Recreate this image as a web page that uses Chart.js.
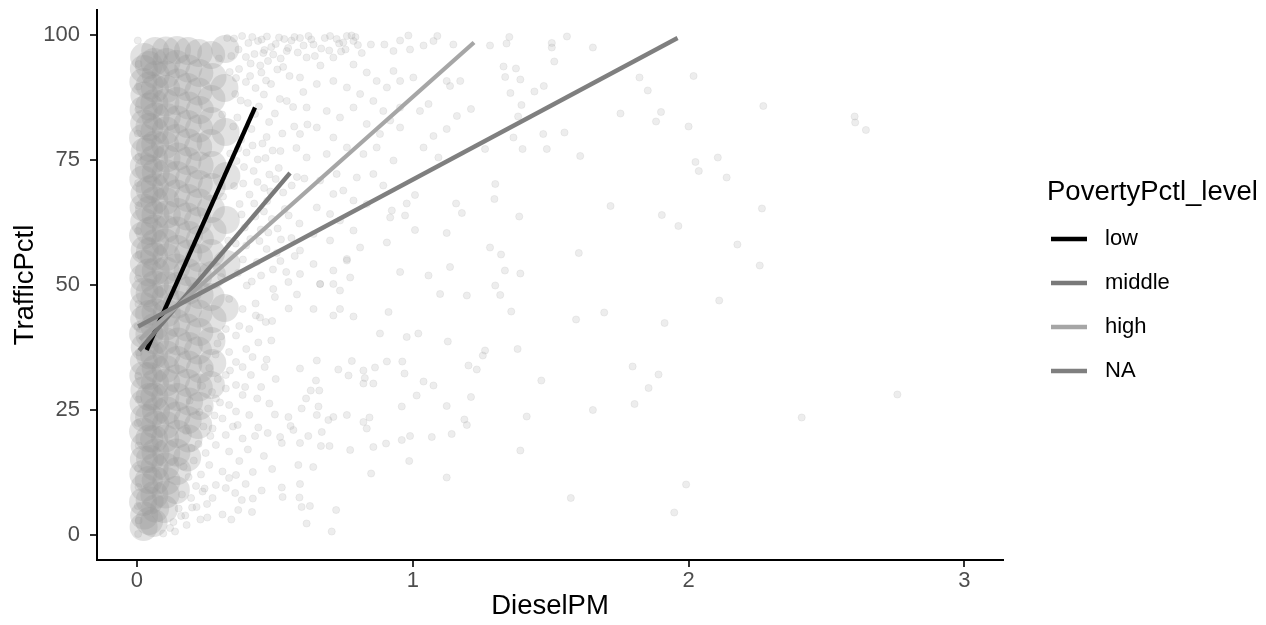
<!DOCTYPE html>
<html>
<head>
<meta charset="utf-8">
<script src="https://cdn.jsdelivr.net/npm/chart.js@4.4.1/dist/chart.umd.min.js"></script>
<style>
html,body{margin:0;padding:0;background:#ffffff;}
#wrap{width:1266px;height:625px;position:relative;}
</style>
</head>
<body>
<div id="wrap"><canvas id="c" width="1266" height="625"></canvas></div>
<script>
// ---------------- data ----------------
const xTicks = [0, 1, 2, 3];
const yTicks = [0, 25, 50, 75, 100];
const xTitle = 'DieselPM';
const yTitle = 'TrafficPctl';
const legendTitle = 'PovertyPctl_level';
const levels = ['low', 'middle', 'high', 'NA'];

// fitted lines (start / end) per poverty level
const fitStartX = [0.035, 0.008, 0.010, 0.004];
const fitStartY = [37.0, 36.9, 39.1, 41.7];
const fitEndX   = [0.428, 0.555, 1.222, 1.960];
const fitEndY   = [85.5, 72.4, 98.5, 99.4];

// individual observations (DieselPM, TrafficPctl)
const observations = [
[1.35,99.6],[1.34,98.3],[1.504,98.4],[1.504,97.5],[1.559,99.7],[1.653,97.5],[1.329,93.7],[1.374,93.3],[1.335,91.6],[1.39,91.1],[1.513,94.7],[1.475,89.8],[1.441,88.7],[1.354,88.4],[1.394,86.0],[1.382,83.7],[1.822,91.5],[1.852,88.9],[2.018,91.8],[1.753,84.3],[1.9,84.6],[1.882,82.7],[2.0,81.7],[2.271,85.8],[2.602,83.7],[2.604,82.5],[2.643,81.0],[1.365,79.5],[1.473,80.2],[1.55,80.5],[1.398,77.2],[1.486,77.2],[1.607,75.8],[2.025,74.6],[2.037,72.8],[2.106,75.5],[2.138,71.5],[1.717,65.8],[1.386,63.7],[1.903,64.0],[1.963,61.8],[2.266,65.3],[2.177,58.1],[1.32,56.1],[1.602,56.4],[1.334,52.9],[1.39,52.3],[2.258,53.9],[1.317,48.0],[1.357,44.7],[1.592,43.1],[1.694,44.5],[1.913,42.4],[2.111,46.9],[1.38,37.2],[1.797,33.7],[1.891,32.1],[1.855,29.4],[1.466,30.9],[1.804,26.2],[1.653,25.0],[1.413,23.7],[2.41,23.5],[2.757,28.1],[1.39,16.9],[1.991,10.1],[1.573,7.4],[1.948,4.5],
[0.761,99.8],[0.785,98.8],[0.848,98.1],[0.897,98.1],[0.93,96.8],[0.954,98.9],[0.984,99.9],[0.99,97.1],[1.039,97.9],[1.075,98.8],[1.089,99.8],[1.147,98.1],[1.28,97.9],[1.211,85.2],[1.16,83.8],[1.123,81.2],[1.075,79.8],[1.262,77.2],[1.093,75.5],[1.039,77.5],[1.057,86.2],[1.026,84.8],[1.123,90.8],[1.135,89.8],[1.172,90.8],[1.299,70.2],[1.296,67.2],[1.157,66.3],[1.178,64.4],[1.008,68.0],[0.978,66.3],[0.972,63.9],[0.924,64.9],[0.918,63.5],[1.008,61.0],[0.906,58.5],[1.123,60.4],[1.28,57.5],[1.299,49.9],[1.135,53.6],[1.099,48.2],[1.196,47.9],[1.057,51.9],[0.954,52.6],[0.761,55.2],
[0.591,99.4],[0.64,98.1],[0.7,99.8],[0.748,98.5],[0.543,96.8],[0.615,95.5],[0.712,95.5],[0.785,94.1],[0.833,92.5],[0.869,90.8],[0.906,89.5],[0.93,92.8],[0.954,90.8],[1.002,91.5],[0.591,91.5],[0.652,90.2],[0.712,90.8],[0.761,89.5],[0.809,88.2],[0.857,86.8],[0.893,84.8],[0.954,85.5],[0.543,86.8],[0.615,85.5],[0.688,84.8],[0.736,83.5],[0.785,85.5],[0.833,82.2],[0.881,80.2],[0.918,82.9],[0.954,81.5],[0.591,80.2],[0.652,81.5],[0.712,79.5],[0.761,77.5],[0.821,76.2],[0.869,77.5],[0.93,74.9],[0.615,75.5],[0.688,76.2],[0.724,72.2],[0.797,71.5],[0.857,72.2],[0.893,69.9],[0.664,70.9],[0.712,68.2],[0.748,68.9],[0.785,66.9],[0.833,66.2],[0.652,65.5],[0.7,64.2],[0.736,62.9],[0.785,60.9],[0.64,60.2],[0.7,58.9],[0.761,54.9],[0.809,57.5],[0.591,56.9],[0.64,54.2],[0.712,52.9],[0.773,51.5],[0.591,52.2],[0.664,50.2],[0.736,48.9],
[0.452,99.1],[0.487,97.6],[0.515,99.5],[0.56,98.9],[0.622,99.8],[0.668,97.3],[0.724,99.2],[0.792,99.6],[0.815,96.4],[0.475,94.8],[0.53,93.6],[0.665,93.9],[0.74,96.7],
[0.46,88.1],[0.5,84.3],[0.47,79.6],[0.52,76.8],[0.48,72.1],[0.53,68.5],[0.46,64.7],[0.51,61.3],[0.55,63.9],[0.47,57.2],[0.52,54.8],[0.45,51.9],[0.5,47.6],[0.55,45.3],[0.49,42.8],[0.43,46.3],[0.58,48.1],[0.56,59.4],[0.58,71.6],[0.57,81.7],[0.44,38.5],[0.47,35.1],
[0.398,49.9],[0.494,49.2],[0.549,50.6],[0.664,50.2],[0.712,50.2],[0.64,45.2],[0.736,45.2],[0.712,43.9],[0.785,43.7],[0.912,44.6],[0.881,40.3],[0.978,39.6],[1.02,40.3],[1.127,38.7],[1.262,36.9],[1.254,35.9],[1.202,33.9],[1.232,33.1],[1.211,27.6],[1.123,25.8],[1.187,23.1],[1.196,22.0],[1.141,20.2],[1.123,11.5],[1.069,19.6],[0.99,19.8],[0.96,19.0],[1.014,27.9],[0.96,25.7],[1.075,29.9],[1.039,30.7],[0.97,32.3],[0.906,34.7],[0.962,34.7],[0.863,33.5],[0.821,32.9],[0.826,31.4],[0.821,30.3],[0.857,30.3],[0.767,31.9],[0.779,34.8],[0.73,33.1],[0.652,34.9],[0.649,30.9],[0.63,28.9],[0.661,28.9],[0.658,25.7],[0.591,33.3],[0.613,27.3],[0.597,25.3],[0.549,23.6],[0.557,21.8],[0.567,21.0],[0.652,24.0],[0.694,23.0],[0.712,23.6],[0.761,24.0],[0.821,22.6],[0.833,21.3],[0.843,23.5],[0.67,20.6],[0.667,17.8],[0.698,17.8],[0.773,17.0],[0.857,17.6],[0.903,18.3],[0.591,18.4],[0.621,19.8],[0.525,18.4],[0.519,19.6],[0.585,14.0],[0.639,13.6],[0.591,10.2],[0.525,9.5],[0.528,7.6],[0.589,7.5],[0.597,5.6],[0.627,5.8],[0.615,2.3],[0.706,0.7],[0.722,5.0],[0.849,12.3],[0.987,14.8],[0.38,7.0],[0.42,7.3],[0.367,5.0],[0.255,3.5],[0.18,2.0],[0.138,0.7],[0.095,0.3],
[0.334,47.2],[0.383,45.2],[0.431,43.9],[0.467,42.6],[0.322,41.2],[0.359,39.9],[0.407,41.2],[0.292,38.3],[0.334,36.6],[0.359,34.6],[0.322,32.0],[0.383,33.6],[0.413,32.0],[0.322,29.3],[0.359,30.0],[0.286,27.3],[0.334,26.0],[0.383,28.0],[0.31,23.3],[0.359,24.7],[0.407,24.0],[0.274,21.3],[0.322,20.0],[0.365,22.0],[0.286,18.0],[0.334,16.7],[0.383,19.3],[0.262,14.0],[0.31,12.7],[0.359,12.0],[0.286,10.0],[0.334,11.4],[0.238,8.7],[0.274,7.4],[0.322,9.4],
[0.45,29.6],[0.48,26.3],[0.44,21.5],[0.5,24.1],[0.46,15.8],[0.42,12.6],[0.49,13.2],[0.2,5.5],[0.23,3.1],[0.16,3.8],[0.12,1.4],[0.31,4.1],
[0.004,0.2],[0.006,2.9],[0.003,5.8],[0.005,9.6],[0.004,13.3],[0.006,17.9],[0.003,22.4],[0.005,27.1],[0.004,31.8],[0.006,36.5],[0.003,41.7],[0.005,46.2],[0.004,51.3],[0.006,56.0],[0.003,60.8],[0.005,65.9],[0.004,70.4],[0.006,75.6],[0.003,80.3],[0.005,85.1],[0.004,89.7],[0.006,94.2],[0.003,98.9],
[0.352,99.3],[0.368,97.1],[0.381,99.8],[0.395,95.6],[0.404,98.4],[0.418,99.6],[0.426,96.2],[0.439,98.8],[0.447,93.9],[0.462,97.0],[0.471,99.7],[0.494,96.1],[0.503,98.2],[0.521,95.3],[0.534,99.2],[0.548,97.4],[0.571,99.6],[0.583,96.5],[0.604,97.9],[0.632,99.1],[0.645,95.8],[0.681,99.4],[0.697,96.9],[0.733,98.3],[0.756,97.1],[0.778,99.9],[0.801,98.0],[0.37,93.2],[0.41,91.8],[0.43,89.4],
[0.356,88.2],[0.364,83.5],[0.378,79.1],[0.361,74.8],[0.385,70.3],[0.372,66.2],[0.391,61.5],[0.358,58.3],[0.384,55.1],[0.402,86.4],[0.415,81.2],[0.397,76.5],[0.423,72.8],[0.408,68.1],[0.429,63.7],[0.411,59.2],[0.435,54.6],[0.442,85.7],[0.455,78.3],[0.438,75.1],[0.461,69.4],[0.449,61.1],[0.472,66.8],[0.486,90.2],[0.492,76.9],[0.503,71.2],[0.489,63.2],[0.507,56.4],[0.451,92.5],[0.395,90.6],
[0.132,2.6],[0.151,5.3],[0.163,8.1],[0.175,3.9],[0.187,11.6],[0.196,7.4],[0.206,14.9],[0.214,9.8],[0.223,18.2],[0.232,12.1],[0.241,21.7],[0.249,16.4],[0.258,25.3],[0.266,19.8],[0.272,28.6],[0.281,23.9],[0.293,31.2],[0.301,26.5],[0.216,5.6],[0.245,9.3],[0.198,17.4],[0.226,24.6],[0.262,33.4],[0.285,36.1],[0.305,39.7],[0.178,20.8],[0.169,13.7],[0.191,26.9],[0.236,29.8],[0.254,6.2],
[0.305,51.6],[0.331,58.9],[0.312,67.7],[0.338,76.3],[0.309,84.1],[0.336,92.6],[0.327,99.4],[0.297,95.3],
[0.342,95.8],[0.359,91.4],[0.376,86.9],[0.349,81.7],[0.367,77.3],[0.388,73.6],[0.352,69.8],[0.379,64.1],[0.396,57.9],[0.366,52.4],[0.412,94.3],[0.428,84.2],[0.419,77.9],[0.437,70.6],[0.425,66.3],[0.444,58.8],[0.416,50.7],[0.458,96.4],[0.468,90.9],[0.479,82.6],[0.466,75.4],[0.484,68.7],[0.476,60.5],[0.493,53.1],[0.509,93.1],[0.518,87.2],[0.527,80.3],[0.514,73.4],[0.536,65.2],[0.522,59.1],[0.541,52.6],[0.553,91.8],[0.566,85.6],[0.578,77.4],[0.561,69.9],[0.589,62.3],[0.572,55.8],[0.603,88.6],[0.618,82.1],[0.607,71.3],
[0.342,3.1],[0.356,8.4],[0.371,14.8],[0.394,10.2],[0.402,17.1],[0.417,4.6],[0.428,19.8],[0.436,27.3],[0.452,8.9],[0.463,33.6],[0.474,20.4],[0.487,38.9],[0.396,37.2],[0.371,41.8],[0.419,35.6],[0.348,21.7],[0.337,32.9],[0.392,29.6],[0.446,43.5],[0.503,31.2]
];

// heavily overlapping observations in the crowded low-DieselPM region
const crowdedObservations = [
[0.024,1.6],[0.026,3.9],[0.022,6.6],[0.027,9.5],[0.023,12.2],[0.025,15.1],[0.028,17.8],[0.022,20.7],[0.026,23.4],[0.024,26.3],[0.027,29.0],[0.023,31.9],[0.025,34.6],[0.028,37.5],[0.022,40.2],[0.026,43.1],[0.024,45.8],[0.027,48.7],[0.023,51.4],[0.025,54.3],[0.028,57.0],[0.022,59.9],[0.026,62.6],[0.024,65.5],[0.027,68.2],[0.023,71.1],[0.025,73.8],[0.028,76.7],[0.022,79.4],[0.026,82.3],[0.024,85.0],[0.027,87.9],[0.023,90.6],[0.025,93.2],[0.026,95.6],
[0.044,2.8],[0.046,6.9],[0.043,11.0],[0.047,15.2],[0.045,19.3],[0.044,23.5],[0.046,27.6],[0.043,31.8],[0.047,35.9],[0.045,40.1],[0.044,44.2],[0.046,48.4],[0.043,52.5],[0.047,56.7],[0.045,60.8],[0.044,65.0],[0.046,69.1],[0.043,73.3],[0.047,77.4],[0.045,81.6],[0.044,85.7],[0.046,89.9],[0.043,94.0],
[0.060,2.4],[0.066,5.3],[0.063,8.0],[0.068,10.9],[0.064,13.6],[0.067,16.5],[0.062,19.2],[0.066,22.1],[0.069,24.8],[0.063,27.7],[0.065,30.4],[0.068,33.3],[0.062,36.0],[0.066,38.9],[0.064,41.6],[0.067,44.5],[0.063,47.2],[0.065,50.1],[0.068,52.8],[0.062,55.7],[0.066,58.4],[0.064,61.3],[0.067,64.0],[0.063,66.9],[0.065,69.6],[0.068,72.5],[0.062,75.2],[0.066,78.1],[0.064,80.8],[0.067,83.7],[0.063,86.4],[0.065,89.3],[0.068,92.0],[0.062,94.6],[0.066,96.8],
[0.098,5.2],[0.104,8.1],[0.107,10.8],[0.103,13.7],[0.106,16.4],[0.102,19.3],[0.105,22.0],[0.108,24.9],[0.103,27.6],[0.106,30.5],[0.104,33.2],[0.107,36.1],[0.102,38.8],[0.105,41.7],[0.108,44.4],[0.103,47.3],[0.106,50.0],[0.104,52.9],[0.107,55.6],[0.102,58.5],[0.105,61.2],[0.108,64.1],[0.103,66.8],[0.106,69.7],[0.104,72.4],[0.107,75.3],[0.102,78.0],[0.105,80.9],[0.108,83.6],[0.103,86.5],[0.106,89.2],[0.104,92.1],[0.107,94.6],[0.105,96.9],
[0.141,9.0],[0.146,12.8],[0.143,16.5],[0.148,20.2],[0.144,23.9],[0.147,27.6],[0.142,31.3],[0.146,35.0],[0.149,38.7],[0.143,42.4],[0.145,46.1],[0.148,49.8],[0.142,53.5],[0.146,57.2],[0.144,60.9],[0.147,64.6],[0.143,68.3],[0.145,72.0],[0.148,75.7],[0.142,79.4],[0.146,83.1],[0.144,86.8],[0.147,90.5],[0.143,94.2],[0.145,97.0],
[0.182,15.5],[0.187,19.3],[0.184,23.0],[0.189,26.7],[0.183,30.4],[0.186,34.1],[0.188,37.8],[0.182,41.5],[0.185,45.2],[0.187,48.9],[0.183,52.6],[0.186,56.3],[0.189,60.0],[0.182,63.7],[0.185,67.4],[0.188,71.1],[0.183,74.8],[0.186,78.5],[0.184,82.2],[0.187,85.9],[0.183,89.6],[0.186,93.3],[0.185,96.8],
[0.222,22.0],[0.227,25.8],[0.224,29.5],[0.228,33.2],[0.221,36.9],[0.226,40.6],[0.223,44.3],[0.227,48.0],[0.222,51.7],[0.225,55.4],[0.228,59.1],[0.221,62.8],[0.226,66.5],[0.224,70.2],[0.227,73.9],[0.222,77.6],[0.225,81.3],[0.228,85.0],[0.223,88.7],[0.226,92.4],[0.224,96.4],
[0.268,30.0],[0.273,34.4],[0.27,38.8],[0.274,43.2],[0.267,47.6],[0.272,52.0],[0.269,56.4],[0.274,60.8],[0.268,65.2],[0.271,69.6],[0.273,74.0],[0.267,78.4],[0.272,82.8],[0.27,87.2],[0.274,91.6],[0.269,96.0],
[0.318,45.4],[0.324,54.2],[0.322,63.0],[0.324,71.8],[0.321,80.6],[0.317,89.4],[0.32,97.2]
];

// ---------------- styling ----------------
const FONT = '"Liberation Sans", Arial, Helvetica, sans-serif';
const levelColors = ['#000000', '#797979', '#a6a6a6', '#7f7f7f'];
const LINE_W = 4.3;

const lineSets = levels.map((lv, i) => ({
  type: 'line',
  label: lv,
  data: [{x: fitStartX[i], y: fitStartY[i]}, {x: fitEndX[i], y: fitEndY[i]}],
  borderColor: levelColors[i],
  backgroundColor: levelColors[i],
  borderWidth: LINE_W,
  borderCapStyle: 'butt',
  pointRadius: 0,
  showLine: true,
  fill: false,
  order: 3 - i
}));

const pointSet = {
  type: 'scatter',
  label: 'observations',
  data: observations.map(p => ({x: p[0], y: p[1]})),
  pointRadius: 3.6,
  pointBorderWidth: 0.8,
  pointBackgroundColor: 'rgba(150,150,150,0.17)',
  pointBorderColor: 'rgba(150,150,150,0.17)',
  showLine: false,
  order: 10
};
const crowdSet = {
  type: 'scatter',
  label: 'crowded',
  data: crowdedObservations.map(p => ({x: p[0], y: p[1]})),
  pointRadius: 14,
  pointBorderWidth: 0,
  pointBackgroundColor: 'rgba(150,150,150,0.28)',
  pointBorderColor: 'rgba(150,150,150,0)',
  showLine: false,
  order: 11
};

const ggLegend = {
  id: 'ggLegend',
  afterDraw(chart) {
    const ctx = chart.ctx;
    ctx.save();
    ctx.fillStyle = '#000000';
    ctx.textAlign = 'left';
    ctx.textBaseline = 'alphabetic';
    ctx.font = '27.5px ' + FONT;
    ctx.fillText(legendTitle, 1047, 200);
    levels.forEach((lv, i) => {
      const yy = 239 + i * 44;
      ctx.strokeStyle = levelColors[i];
      ctx.lineWidth = LINE_W;
      ctx.lineCap = 'butt';
      ctx.beginPath();
      ctx.moveTo(1051, yy);
      ctx.lineTo(1087, yy);
      ctx.stroke();
      ctx.font = '22px ' + FONT;
      ctx.textBaseline = 'middle';
      ctx.fillText(lv, 1105, yy);
    });
    ctx.restore();
  }
};

const axisCommon = (tickVals, fitFn, titleText, titlePad) => ({
  type: 'linear',
  afterBuildTicks: s => { s.ticks = tickVals.map(v => ({value: v})); },
  afterFit: fitFn,
  grid: { drawOnChartArea: false, drawTicks: true, tickLength: 7, color: '#333333', lineWidth: 2 },
  border: { display: true, color: '#000000', width: 2 },
  ticks: { font: {family: FONT, size: 22}, color: '#4d4d4d', autoSkip: false, maxRotation: 0 },
  title: { display: true, text: titleText, color: '#000000', font: {family: FONT, size: 27.5}, padding: titlePad }
});

const xScale = axisCommon(xTicks, s => { s.height = 65; s.paddingLeft = 0; s.paddingRight = 0; }, xTitle, {top: 0, bottom: 2});
xScale.min = -0.145; xScale.max = 3.14; xScale.ticks.padding = 1;
const yScale = axisCommon(yTicks, s => { s.width = 97; s.paddingTop = 0; s.paddingBottom = 0; }, yTitle, {top: 9, bottom: 0});
yScale.min = -5; yScale.max = 105; yScale.ticks.padding = 10;

new Chart(document.getElementById('c'), {
  type: 'scatter',
  data: { datasets: [...lineSets, pointSet, crowdSet] },
  options: {
    responsive: false,
    animation: false,
    devicePixelRatio: 1,
    events: [],
    layout: { autoPadding: false, padding: { top: 10, right: 263, bottom: 0, left: 0 } },
    scales: { x: xScale, y: yScale },
    plugins: { legend: { display: false }, tooltip: { enabled: false } }
  },
  plugins: [ggLegend]
});
</script>
</body>
</html>
